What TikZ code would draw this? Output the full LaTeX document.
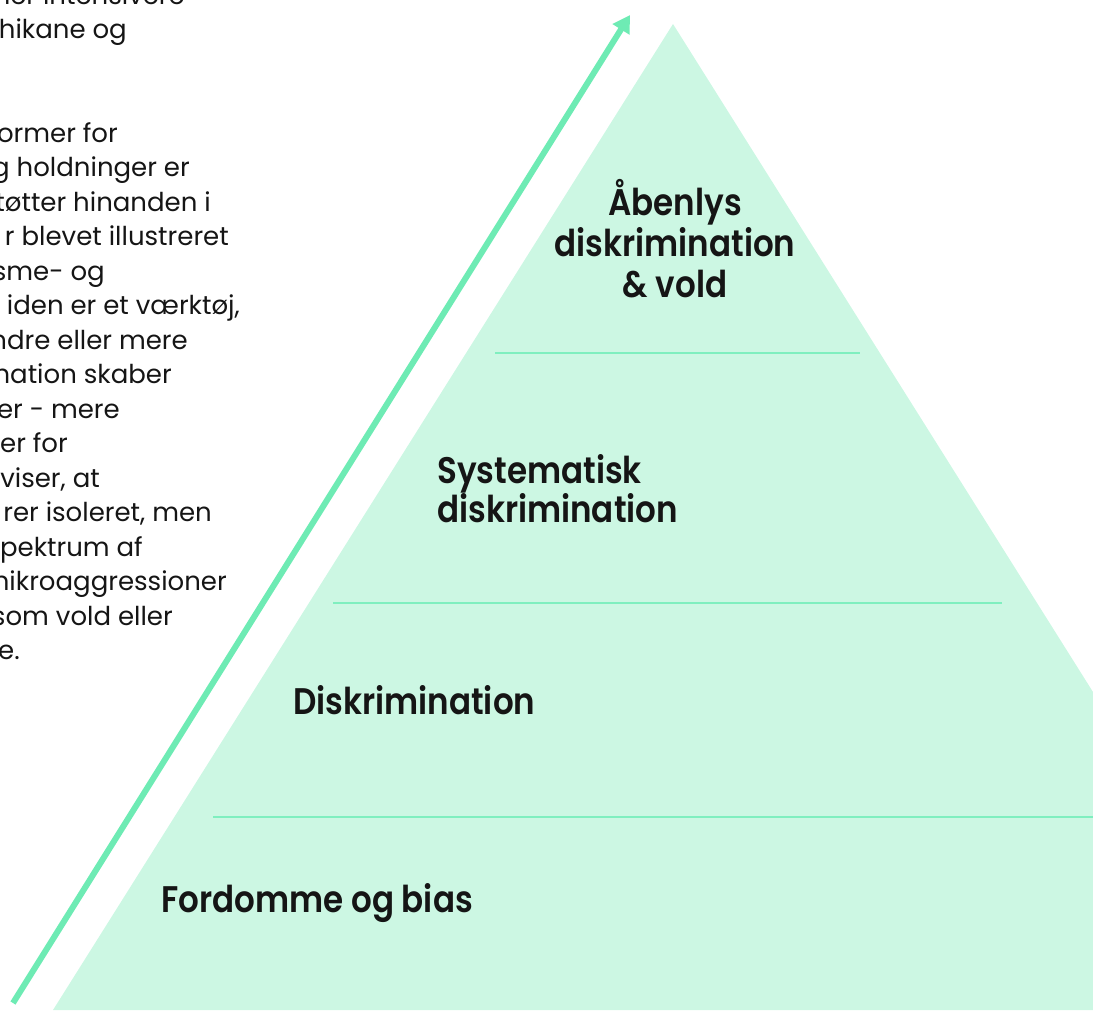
\documentclass[tikz,border=0pt]{standalone}
\usepackage{fontspec}
\setmainfont{Poppins}
\newfontfamily\headfont{Poppins SemiBold}[FakeStretch=0.88]
\usetikzlibrary{arrows.meta}
\definecolor{pyrfill}{HTML}{CCF7E3}
\definecolor{mint}{HTML}{6EEBB4}
\definecolor{sepline}{HTML}{7FEFBF}
\definecolor{ink}{HTML}{151515}
\tikzset{
  body/.style={anchor=base east, inner sep=0pt, text=ink, font=\fontsize{26}{34.5}\selectfont},
  level/.style={inner sep=0pt, text=ink, font=\headfont\fontsize{37}{41}\selectfont},
  sep/.style={draw=sepline, line width=1.6pt},
  rise/.style={draw=mint, line width=6pt, -{Triangle[length=17pt,width=19pt]}}
}
\begin{document}
\begin{tikzpicture}[x=1pt,y=-1pt]
\useasboundingbox (0,0) rectangle (1093,1010);
\clip (0,0) rectangle (1093,1010);
% pyramid
\fill[pyrfill] (673,24) -- (1093,692) -- (1093,1010) -- (53,1010) -- cycle;
\coordinate (s1a) at (495,353); \coordinate (s1b) at (860,353);
\coordinate (s2a) at (333,603); \coordinate (s2b) at (1002,603);
\coordinate (s3a) at (213,817); \coordinate (s3b) at (1093,817);
\draw[sep] (s1a) -- (s1b);
\draw[sep] (s2a) -- (s2b);
\draw[sep, line width=1.1pt] (s3a) -- (s3b);
% arrow
\coordinate (arrS) at (13,1003);
\coordinate (arrE) at (630,15);
\draw[rise] (arrS) -- (arrE);
% level labels
\node[level, anchor=base] (t1a) at (675,215) {Åbenlys};
\node[level, anchor=base] (t1b) at (675,256) {diskrimination};
\node[level, anchor=base] (t1c) at (675,297) {\& vold};
\node[level, anchor=base west] (t2a) at (437,483) {Systematisk};
\node[level, anchor=base west] (t2b) at (437,522) {diskrimination};
\node[level, anchor=base west] (t3) at (293,714) {Diskrimination};
\node[level, anchor=base west] (t4) at (161,912) {Fordomme og bias};
% cut-off paragraph at left
\node[body] (p0) at (185,4) {mer intensivere};
\node[body] (p1) at (127,38.5) {hikane og};
\node[body] (p4) at (118,142) {ormer for};
\node[body] (p5) at (190,176.5) {g holdninger er};
\node[body] (p6) at (211,211) {tøtter hinanden i};
\node[body] (p7) at (229,245.5) {r blevet illustreret};
\node[body] (p8) at (105,280) {sme- og};
\node[body] (p9) at (240,314.5) {iden er et værktøj,};
\node[body] (p10) at (188,349) {ndre eller mere};
\node[body] (p11) at (172,383.5) {nation skaber};
\node[body] (p12) at (120,418) {er - mere};
\node[body] (p13) at (68,452.5) {er for};
\node[body] (p14) at (100,487) {viser, at};
\node[body] (p15) at (212,521.5) {rer isoleret, men};
\node[body] (p16) at (143,556) {pektrum af};
\node[body] (p17) at (227,590.5) {nikroaggressioner};
\node[body] (p18) at (173,625) {som vold eller};
\node[body] (p19) at (20,659.5) {e.};
\end{tikzpicture}
\end{document}
